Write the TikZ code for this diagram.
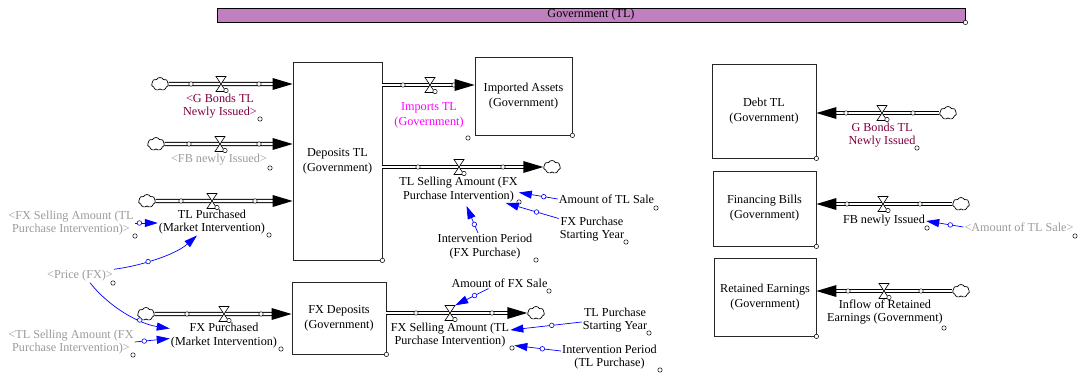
\documentclass[tikz,border=0pt]{standalone}
\usepackage{fontspec}
\setmainfont{Liberation Serif}
\usetikzlibrary{shapes.symbols,arrows.meta,calc}
\definecolor{barpurple}{RGB}{192,128,192}
\definecolor{ghost}{RGB}{155,155,155}
\definecolor{maroonlab}{RGB}{128,0,64}
\definecolor{linkblue}{RGB}{0,0,255}
\definecolor{importpink}{RGB}{255,0,255}

\begin{document}
\begin{tikzpicture}[x=1pt,y=-1pt,
  every node/.style={font=\fontsize{12.2}{13.5}\selectfont},
  stock/.style={draw=black!85, line width=0.8pt, fill=white, inner sep=0pt, align=center,
    font=\fontsize{12.2}{15}\selectfont},
  lab/.style={align=center, inner sep=1pt},
  ghostlab/.style={lab, text=ghost},
  cloudn/.style={cloud, cloud puffs=7, cloud puff arc=120, aspect=1.3, draw, fill=white,
    line width=0.7pt, inner sep=0pt, minimum width=17pt, minimum height=13pt},
  pipe/.style={draw=black, line width=0.9pt, double=white, double distance=2.4pt},
  handle/.style={draw=black, fill=white, line width=0.5pt},
  valvebox/.style={inner sep=0pt, minimum width=10pt, minimum height=15pt},
  link/.style={draw=linkblue, line width=0.7pt, -{Triangle[length=13pt,width=8pt]}},
  linkdot/.style={circle, draw=linkblue, fill=white, line width=0.6pt, inner sep=0pt,
    minimum size=4.6pt},
  valve/.pic={
    \draw[fill=white, line width=0.6pt, line join=miter]
      (-5,-7.5) -- (5,-7.5) -- (-5,7.5) -- (5,7.5) -- cycle;
    \draw[handle] (5,6.5) circle[radius=2.2];
  },
  headR/.pic={\fill (0,0) -- (-20,-6) -- (-20,6) -- cycle;},
  headL/.pic={\fill (0,0) -- (20,-6) -- (20,6) -- cycle;},
]
\useasboundingbox (0,0) rectangle (1081,378);

% ---------- sector banner ----------
\node[draw=black, line width=0.9pt, fill=barpurple, minimum width=748pt, minimum height=14pt,
  inner sep=0pt] (gov) at (591,15) {Government (TL)};
\draw[handle] (gov.south east) circle[radius=2.2];

% ---------- stocks ----------
\node[stock, minimum width=89pt, minimum height=198pt] (dep) at (337.5,161) {Deposits TL\\(Government)};
\node[stock, minimum width=97pt, minimum height=78pt] (imp) at (523.5,96) {Imported Assets\\(Government)};
\node[stock, minimum width=94pt, minimum height=72pt] (fxdep) at (339,318) {FX Deposits\\(Government)};
\node[stock, minimum width=104pt, minimum height=94pt] (debt) at (764,111) {Debt TL\\(Government)};
\node[stock, minimum width=103pt, minimum height=75pt] (fbs) at (764.5,208.5) {Financing Bills\\(Government)};
\node[stock, minimum width=102pt, minimum height=78pt] (res) at (765,297) {Retained Earnings\\(Government)};
\foreach \s in {dep,imp,fxdep,debt,fbs,res}
  \draw[handle] (\s.south east) circle[radius=2.2];

% ---------- flows into Deposits TL ----------
\node[cloudn] (cA) at (160,84) {};
\node[valvebox] (vA) at (221,84) {};
\draw[pipe, shorten >=18pt] (cA.east) -- (dep.west |- vA);
\draw[handle] (191,84) circle[radius=2.2] (259,84) circle[radius=2.2];
\pic at (vA) {valve};
\pic at (dep.west |- vA) {headR};

\node[cloudn] (cB) at (156,144) {};
\node[valvebox] (vB) at (220,144) {};
\draw[pipe, shorten >=18pt] (cB.east) -- (dep.west |- vB);
\draw[handle] (189,144) circle[radius=2.2] (259,144) circle[radius=2.2];
\pic at (vB) {valve};
\pic at (dep.west |- vB) {headR};

\node[cloudn] (cC) at (147,201) {};
\node[valvebox] (vC) at (212,201) {};
\draw[pipe, shorten >=18pt] (cC.east) -- (dep.west |- vC);
\draw[handle] (181,201) circle[radius=2.2] (255,201) circle[radius=2.2];
\pic at (vC) {valve};
\pic at (dep.west |- vC) {headR};

% ---------- flow into FX Deposits ----------
\node[cloudn] (cD) at (146,314) {};
\node[valvebox] (vD) at (224,314) {};
\draw[pipe, shorten >=18pt] (cD.east) -- (fxdep.west |- vD);
\draw[handle] (187,314) circle[radius=2.2] (261,314) circle[radius=2.2];
\pic at (vD) {valve};
\pic at (fxdep.west |- vD) {headR};

% ---------- outflows ----------
\node[valvebox] (vE) at (430,85) {};
\draw[pipe, shorten >=18pt] (dep.east |- vE) -- (imp.west |- vE);
\draw[handle] (403,85) circle[radius=2.2] (454,85) circle[radius=2.2];
\pic at (vE) {valve};
\pic at (imp.west |- vE) {headR};

\node[cloudn] (cF) at (552,167) {};
\node[valvebox] (vF) at (459,167) {};
\draw[pipe, shorten >=18pt] (dep.east |- vF) -- (cF.west);
\draw[handle] (418,167) circle[radius=2.2] (503,167) circle[radius=2.2];
\pic at (vF) {valve};
\pic at (cF.west) {headR};

\node[cloudn] (cG) at (536,313) {};
\node[valvebox] (vG) at (450,313) {};
\draw[pipe, shorten >=18pt] (fxdep.east |- vG) -- (cG.west);
\draw[handle] (416,313) circle[radius=2.2] (492,313) circle[radius=2.2];
\pic at (vG) {valve};
\pic at (cG.west) {headR};

% ---------- right-hand inflows ----------
\node[cloudn] (cH) at (948,113) {};
\node[valvebox] (vH) at (882,113) {};
\draw[pipe, shorten >=18pt] (cH.west) -- (debt.east |- vH);
\draw[handle] (846,113) circle[radius=2.2] (913,113) circle[radius=2.2];
\pic at (vH) {valve};
\pic at (debt.east |- vH) {headL};

\node[cloudn] (cI) at (961,204) {};
\node[valvebox] (vI) at (883,204) {};
\draw[pipe, shorten >=18pt] (cI.west) -- (fbs.east |- vI);
\draw[handle] (847,204) circle[radius=2.2] (920,204) circle[radius=2.2];
\pic at (vI) {valve};
\pic at (fbs.east |- vI) {headL};

\node[cloudn] (cJ) at (961,291) {};
\node[valvebox] (vJ) at (884,291) {};
\draw[pipe, shorten >=18pt] (cJ.west) -- (res.east |- vJ);
\draw[handle] (848,291) circle[radius=2.2] (921,291) circle[radius=2.2];
\pic at (vJ) {valve};
\pic at (res.east |- vJ) {headL};

% ---------- flow labels ----------
\node[lab, text=maroonlab] (gbLab) at (220,106) {<G Bonds TL\\Newly Issued>};
\node[ghostlab] (fbLab) at (219,160) {<FB newly Issued>};
\node[lab] (tlpLab) at (212,222) {TL Purchased\\(Market Intervention)};
\node[lab] (fxpLab) at (224,335.5) {FX Purchased\\(Market Intervention)};
\node[lab, text=importpink, font=\fontsize{12.2}{15}\selectfont] (impLab) at (429,115.5) {Imports TL\\(Government)};
\node[lab] (tlsLab) at (458.5,189.5) {TL Selling Amount (FX\\Purchase Intervention)};
\node[lab] (fxsLab) at (450,335) {FX Selling Amount (TL\\Purchase Intervention)};
\node[lab, text=maroonlab] (gbrLab) at (882,135) {G Bonds TL\\Newly Issued};
\node[lab] (fbrLab) at (884,221) {FB newly Issued};
\node[lab] (reLab) at (885,312) {Inflow of Retained\\Earnings (Government)};

% ---------- auxiliaries ----------
\node[lab] (amtTL) at (606.5,199) {Amount of TL Sale};
\node[lab] (fxpsy) at (592,229) {FX Purchase\\Starting Year};
\node[lab] (ipFX) at (485,246.5) {Intervention Period\\(FX Purchase)};
\node[lab] (amtFX) at (499.5,283) {Amount of FX Sale};
\node[lab] (tlpsy) at (615,320) {TL Purchase\\Starting Year};
\node[lab] (ipTL) at (609.5,357) {Intervention Period\\(TL Purchase)};
\node[ghostlab] (amtTLg) at (1019,227) {<Amount of TL Sale>};
\node[ghostlab] (fxsG) at (71,223) {<FX Selling Amount (TL\\Purchase Intervention)>};
\node[ghostlab] (priceG) at (80,276) {<Price (FX)>};
\node[ghostlab] (tlsG) at (71,342) {<TL Selling Amount (FX\\Purchase Intervention)>};

% name handles
\foreach \p in {(260,119),(270,168),(269,235),(281,349),(468,138),(519,202),(512,348),
  (917,148),(927,228),(944,328),(656,208),(626,242),(536,260),(549,291),(649,333),
  (660,370),(1075,236),(135,236),(113,283),(133,355)}
  \draw[handle] \p circle[radius=2.2];

% ---------- information links ----------
\draw[link] (fxsG.east) -- ([yshift=-1pt]tlpLab.west) node[linkdot,pos=0.2]{};
\draw[link] (priceG.north east) .. controls (140,266) and (175,255) .. ([xshift=-15pt]tlpLab.south)
  node[linkdot,pos=0.4]{};
\draw[link] ([xshift=10pt]priceG.south) .. controls (110,308) and (140,324) .. ([yshift=7pt]fxpLab.west)
  node[linkdot,pos=0.66]{};
\draw[link] (tlsG.east) -- ([yshift=-3pt]fxpLab.west) node[linkdot,pos=0.27]{};
\draw[link] (amtTL.west) -- ([yshift=-3pt]tlsLab.east) node[linkdot,pos=0.36]{};
\draw[link] ([yshift=-3pt]fxpsy.north west) -- ([xshift=-13pt]tlsLab.south east) node[linkdot,pos=0.42]{};
\draw[link] ([xshift=-7pt]ipFX.north) -- ([xshift=8pt,yshift=-3pt]tlsLab.south) node[linkdot,pos=0.32]{};
\draw[link] ([xshift=-11pt]amtFX.south) -- (vG.north east) node[linkdot,pos=0.42]{};
\draw[link] ([yshift=-2pt]tlpsy.west) -- ([yshift=5pt]fxsLab.east) node[linkdot,pos=0.42]{};
\draw[link] ([yshift=6pt]ipTL.west) -- ([xshift=4pt,yshift=3pt]fxsLab.south east) node[linkdot,pos=0.4]{};
\draw[link] (amtTLg.west) -- (fbrLab.east) node[linkdot,pos=0.35]{};
\end{tikzpicture}
\end{document}
